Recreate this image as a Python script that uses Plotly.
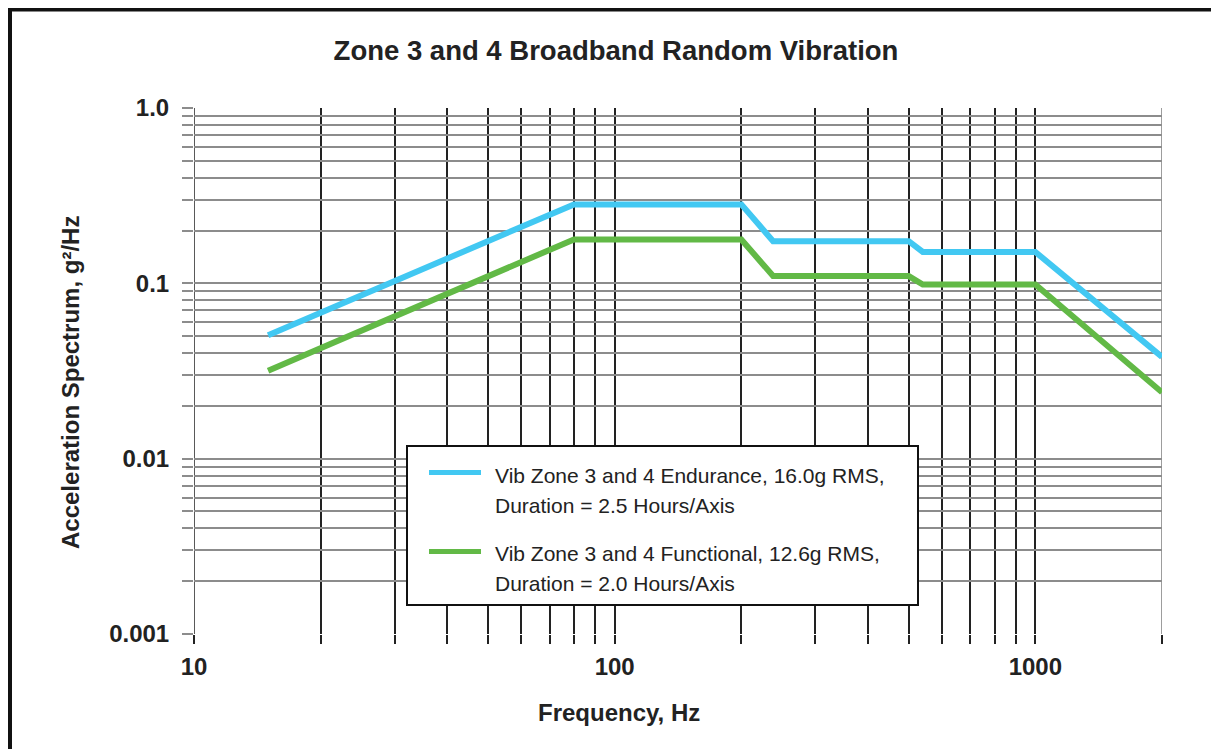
import math
import plotly.graph_objects as go

# spectrum breakpoints (Hz, g^2/Hz)
freq = [15, 80, 200, 238, 500, 540, 1000, 2000]
endurance = [0.0506, 0.282, 0.282, 0.174, 0.174, 0.151, 0.151, 0.038]
functional = [0.0317, 0.178, 0.178, 0.110, 0.110, 0.0985, 0.0985, 0.0239]

endurance_name = "Vib Zone 3 and 4 Endurance, 16.0g RMS,"
endurance_dur = "Duration = 2.5 Hours/Axis"
functional_name = "Vib Zone 3 and 4 Functional, 12.6g RMS,"
functional_dur = "Duration = 2.0 Hours/Axis"

x_ticks = [10, 20, 30, 40, 50, 60, 70, 80, 90,
           100, 200, 300, 400, 500, 600, 700, 800, 900,
           1000, 2000]
x_labels = ["10", "", "", "", "", "", "", "", "",
            "100", "", "", "", "", "", "", "", "",
            "1000", ""]
y_ticks = [0.001, 0.002, 0.003, 0.004, 0.005, 0.006, 0.007, 0.008, 0.009,
           0.01, 0.02, 0.03, 0.04, 0.05, 0.06, 0.07, 0.08, 0.09,
           0.1, 0.2, 0.3, 0.4, 0.5, 0.6, 0.7, 0.8, 0.9, 1.0]
y_labels = ["0.001", "", "", "", "", "", "", "", "",
            "0.01", "", "", "", "", "", "", "", "",
            "0.1", "", "", "", "", "", "", "", "", "1.0"]

BLUE = "#42C8F2"
GREEN = "#62B946"
FONT = "Liberation Sans, Arial, sans-serif"

# page sits 8px in from the window edge, so sizes below are page px - 8
W, H = 1211, 741
PL, PT, PW, PH = 194, 108, 968, 526  # plot area in window pixels


def px(x):
    return (x - PL) / PW


def py(y):
    return (PT + PH - y) / PH


fig = go.Figure()
fig.add_trace(go.Scatter(x=freq, y=endurance, mode="lines", name=endurance_name,
                         line=dict(color=BLUE, width=6), showlegend=False))
fig.add_trace(go.Scatter(x=freq, y=functional, mode="lines", name=functional_name,
                         line=dict(color=GREEN, width=6), showlegend=False))

fig.update_layout(
    width=W,
    height=H,
    margin=dict(l=PL - 8, r=W - (PL - 8) - PW, t=PT - 8, b=H - (PT - 8) - PH),
    paper_bgcolor="white",
    plot_bgcolor="white",
    font=dict(family=FONT, color="#222"),
    title=dict(text="<b>Zone 3 and 4 Broadband Random Vibration</b>",
               font=dict(size=27.5, color="#222"),
               x=(616 - 8) / W, xref="container", xanchor="center",
               y=1 - (50 - 8) / H, yref="container", yanchor="middle"),
)

fig.update_xaxes(
    type="log", range=[1, math.log10(2000)],
    tickvals=x_ticks, ticktext=x_labels,
    ticks="outside", ticklen=9, tickcolor="#222", tickwidth=1.5,
    showgrid=True, gridcolor="#222", gridwidth=1.5,
    showline=False, zeroline=False, ticklabelstandoff=2,
    tickfont=dict(size=24, weight="bold", color="#222"),
)
fig.update_yaxes(
    type="log", range=[-3, 0],
    tickvals=y_ticks, ticktext=y_labels,
    ticks="outside", ticklen=11, tickcolor="#8c8c8c", tickwidth=1.7,
    showgrid=True, gridcolor="#8c8c8c", gridwidth=1.7,
    showline=False, zeroline=False, ticklabelstandoff=8,
    tickfont=dict(size=24, weight="bold", color="#222"),
)

# edge grid lines (plotly skips grid lines sitting on the plot border)
fig.add_shape(type="line", xref="x", yref="paper", x0=x_ticks[0], x1=x_ticks[0],
              y0=0, y1=1, layer="below", line=dict(color="#222", width=1.5))
fig.add_shape(type="line", xref="x", yref="paper", x0=x_ticks[-1], x1=x_ticks[-1],
              y0=0, y1=1, layer="below", line=dict(color="#8c8c8c", width=1.7))

# axis titles
fig.add_annotation(text="<b>Frequency, Hz</b>", xref="paper", yref="paper",
                   x=px(619), y=py(712), xanchor="center", yanchor="middle",
                   showarrow=False, font=dict(size=24, color="#222"))
fig.add_annotation(text="<b>Acceleration Spectrum, g²/Hz</b>", xref="paper", yref="paper",
                   x=px(70), y=py(383), xanchor="center", yanchor="middle",
                   showarrow=False, textangle=-90, font=dict(size=24, color="#222"))

# boxed legend
fig.add_shape(type="rect", xref="paper", yref="paper",
              x0=px(407), x1=px(918), y0=py(605), y1=py(446),
              fillcolor="white", line=dict(color="#111", width=2))
fig.add_shape(type="line", xref="paper", yref="paper",
              x0=px(429), x1=px(481), y0=py(472.5), y1=py(472.5),
              line=dict(color=BLUE, width=5))
fig.add_shape(type="line", xref="paper", yref="paper",
              x0=px(429), x1=px(481), y0=py(551.5), y1=py(551.5),
              line=dict(color=GREEN, width=5))
for txt, ty in [(endurance_name, 475), (endurance_dur, 505),
                (functional_name, 553), (functional_dur, 583)]:
    fig.add_annotation(text=txt, xref="paper", yref="paper",
                       x=px(493), y=py(ty),
                       xanchor="left", yanchor="middle", showarrow=False,
                       font=dict(size=21, color="#222"))

# page frame (top and left edges)
fig.add_shape(type="line", xref="paper", yref="paper",
              x0=px(9), x1=px(1225), y0=py(9.5), y1=py(9.5),
              line=dict(color="#111", width=4))
fig.add_shape(type="line", xref="paper", yref="paper",
              x0=px(10), x1=px(10), y0=py(8), y1=py(760),
              line=dict(color="#111", width=4))

fig.write_html("out.html")
